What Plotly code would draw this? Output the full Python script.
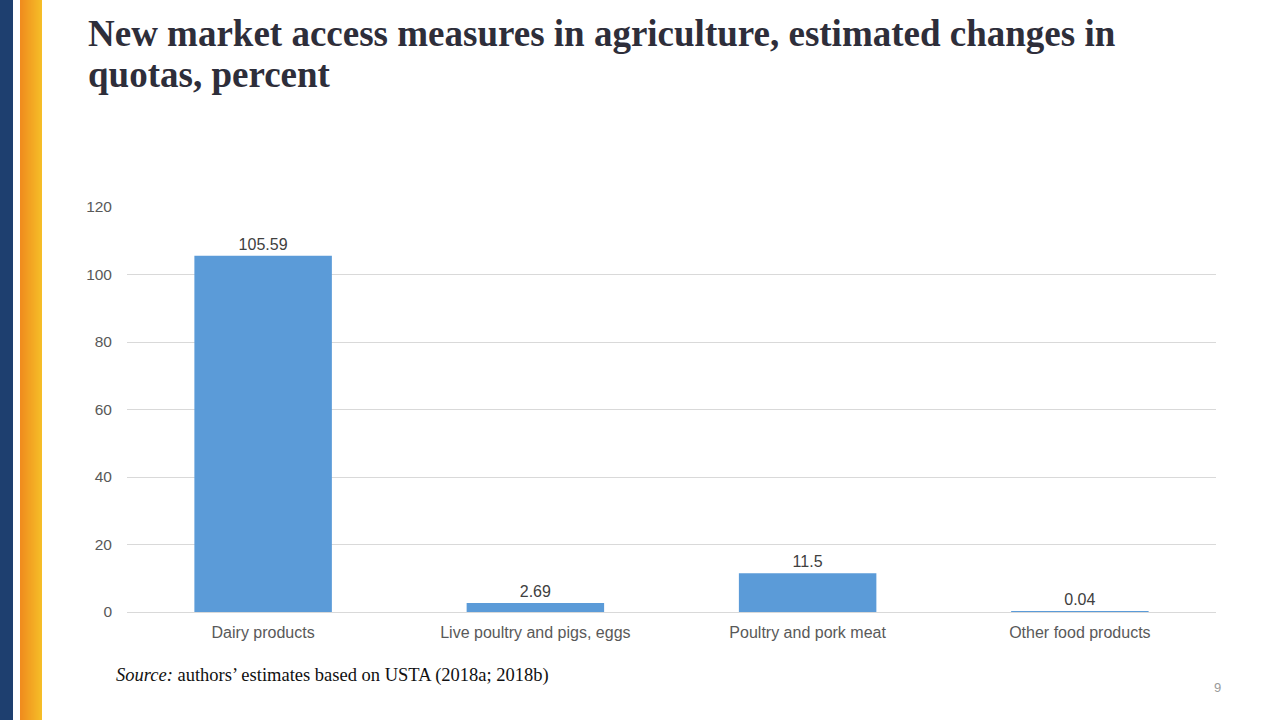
import plotly.graph_objects as go

categories = ["Dairy products", "Live poultry and pigs, eggs", "Poultry and pork meat", "Other food products"]
values = [105.59, 2.69, 11.5, 0.04]
labels = ["105.59", "2.69", "11.5", "0.04"]
y_ticks = [0, 20, 40, 60, 80, 100, 120]
title_lines = ["New market access measures in agriculture, estimated changes in", "quotas, percent"]

W, H = 1280, 720
L, R, T, B = 127, 64, 207, 108
pw = W - L - R
ph = H - T - B

def px(x):
    return (x - L) / pw

def py(y):
    return 1 - (y - T) / ph

fig = go.Figure()
fig.add_trace(go.Bar(
    x=categories, y=values, text=labels, textposition="outside",
    textfont=dict(family="Liberation Sans, Arial", size=16, color="#404040"),
    marker=dict(color="#5b9bd8", line=dict(width=0)),
    width=0.505, cliponaxis=False,
))

shapes = [dict(type="rect", xref="paper", yref="paper", x0=px(0), x1=px(13), y0=py(0), y1=py(720),
               fillcolor="#1e3f6f", line=dict(width=0), layer="above")]
# orange-to-yellow gradient stripe
n = 22
c0 = (240, 140, 30)
c1 = (246, 190, 40)
for i in range(n):
    t = i / (n - 1)
    c = tuple(int(c0[k] + (c1[k] - c0[k]) * t) for k in range(3))
    shapes.append(dict(type="rect", xref="paper", yref="paper", x0=px(20 + i), x1=px(21 + i),
                       y0=py(0), y1=py(720), fillcolor="rgb(%d,%d,%d)" % c, line=dict(width=0)))

title_font = dict(family="Liberation Serif, Times New Roman", size=37, color="#2e2e3a")
annotations = [
    dict(text="<b>%s</b>" % title_lines[0], xref="paper", yref="paper", x=px(86), y=py(11),
         xanchor="left", yanchor="top", align="left", showarrow=False, font=title_font),
    dict(text="<b>%s</b>" % title_lines[1], xref="paper", yref="paper", x=px(86), y=py(52),
         xanchor="left", yanchor="top", align="left", showarrow=False, font=title_font),
    dict(text="<i>Source:</i> authors’ estimates based on USTA (2018a; 2018b)",
         xref="paper", yref="paper", x=px(114), y=py(675), xanchor="left", yanchor="middle",
         showarrow=False, font=dict(family="Liberation Serif, Times New Roman", size=18.5, color="#111111")),
    dict(text="9", xref="paper", yref="paper", x=px(1217), y=py(687), xanchor="center", yanchor="middle",
         showarrow=False, font=dict(family="Liberation Sans, Arial", size=13, color="#9a9a9a")),
]

fig.update_layout(
    width=W, height=H, margin=dict(l=L, r=R, t=T, b=B),
    paper_bgcolor="white", plot_bgcolor="white", showlegend=False,
    shapes=shapes, annotations=annotations,
    font=dict(family="Liberation Sans, Arial", size=15, color="#595959"),
    bargap=0.5,
)
fig.update_xaxes(showgrid=False, showline=True, linecolor="#d9d9d9", linewidth=1, ticks="",
                 ticklabelstandoff=6, tickfont=dict(size=16, color="#595959"))
fig.update_yaxes(range=[0, 120], tickvals=y_ticks, showgrid=True, gridcolor="#d9d9d9", gridwidth=1,
                 zeroline=False, showline=False, ticks="", ticklabelstandoff=14,
                 tickfont=dict(size=15.5, color="#595959"))

fig.write_html("out.html", config={"displayModeBar": False},
               post_script="document.body.style.margin='0';document.body.style.overflow='hidden';")
